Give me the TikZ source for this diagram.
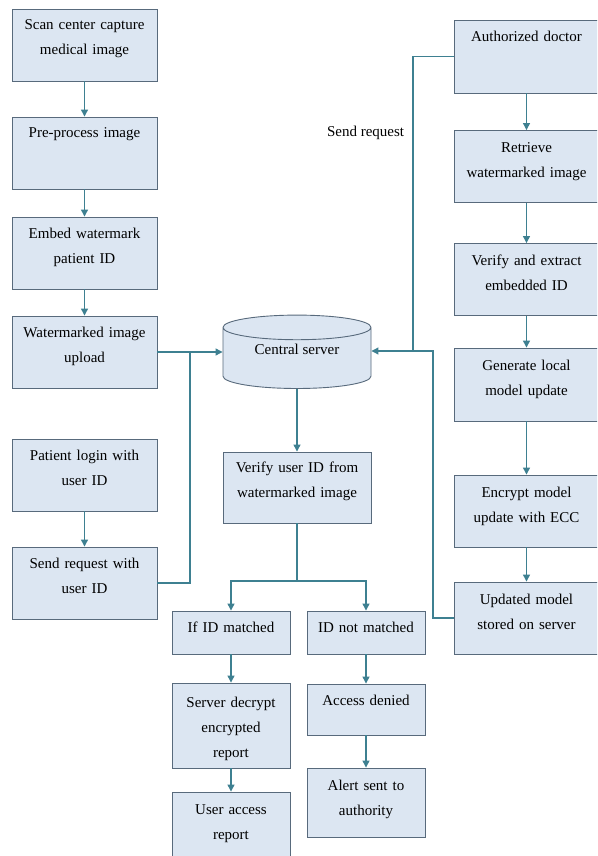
\documentclass[tikz,border=0pt]{standalone}
\usepackage{fontspec}
\setmainfont{Liberation Serif}
\usetikzlibrary{shapes.geometric, arrows.meta}
\definecolor{boxfill}{RGB}{220,230,242}
\definecolor{boxline}{RGB}{88,106,124}
\definecolor{flowcol}{RGB}{62,128,145}

\begin{document}
\begin{tikzpicture}[x=1pt, y=-1pt, >={Triangle[length=7pt, width=7pt]}, block/.style={rectangle, draw=boxline, fill=boxfill, line width=0.9pt, inner sep=0pt, minimum width=145pt, text width=140pt, align=center, text height=21pt, text depth=51pt, font=\fontsize{15}{25}\selectfont}, subblock/.style={block, minimum width=118pt, text width=114pt}, store/.style={cylinder, shape border rotate=90, aspect=0.27, draw=boxline, fill=boxfill, line width=0.9pt, minimum width=148pt, minimum height=72pt, text height=11pt, text depth=22pt, font=\fontsize{15}{25}\selectfont}, flow/.style={draw=flowcol, line width=1.2pt}]

  \clip (0,0) rectangle (597,856);
  \fill[white] (0,0) rectangle (597,856);

  % left column: upload path
  \node[block] (scan) at (84.5,45) {Scan center capture\\medical image};
  \node[block, below of=scan, node distance=108pt] (prep) {Pre-process image};
  \node[block, below of=prep, node distance=100pt] (embed) {Embed watermark\\patient ID};
  \node[block, below of=embed, node distance=99pt] (upload) {Watermarked image\\upload};
  \node[block, below of=upload, node distance=123pt] (login) {Patient login with\\user ID};
  \node[block, below of=login, node distance=108pt] (sendreq) {Send request with\\user ID};

  % right column: doctor path
  \node[block, text height=22pt, text depth=51pt] (doctor) at (526.5,56.5) {Authorized doctor};
  \node[block, text height=22pt, text depth=50pt, below of=doctor, node distance=110pt] (retrieve) {Retrieve\\watermarked image};
  \node[block, text height=22pt, text depth=50pt, below of=retrieve, node distance=113pt] (extract) {Verify and extract\\embedded ID};
  \node[block, text height=22pt, text depth=51pt, below of=extract, node distance=105pt] (localupd) {Generate local\\model update};
  \node[block, text height=22pt, text depth=50pt, below of=localupd, node distance=126.5pt] (encrypt) {Encrypt model\\update with ECC};
  \node[block, text height=22pt, text depth=50pt, below of=encrypt, node distance=107pt] (stored) {Updated model\\stored on server};

  % centre: server and checks
  \node[store] (server) at (297,360) {Central server};
  \node[block, minimum width=148pt, text height=20pt, text depth=51pt] (checkid) at (297,487.5) {Verify user ID from\\watermarked image};
  \node[coordinate, below of=checkid, node distance=93.5pt] (split) {};
  \coordinate (hubdoc) at (413,351);
  \coordinate (hubupd) at (433,351);

  \node[subblock, text depth=22pt] (match) at (231,632.5) {If ID matched};
  \node[subblock, text height=24pt, text depth=61pt, below of=match, node distance=93pt] (decrypt) {Server decrypt\\encrypted\\report};
  \node[subblock, text height=22pt, text depth=50pt, below of=decrypt, node distance=102.5pt] (access) {User access\\report};
  \node[subblock, text depth=22pt] (nomatch) at (366,632.5) {ID not matched};
  \node[subblock, text depth=30pt, below of=nomatch, node distance=77pt] (denied) {Access denied};
  \node[subblock, text height=22pt, text depth=47pt, below of=denied, node distance=93pt] (alert) {Alert sent to\\authority};

  \draw[->, flow] (scan) -- (prep);
  \draw[->, flow] (prep) -- (embed);
  \draw[->, flow] (embed) -- (upload);
  \draw[->, flow] (upload.east) -- node[coordinate, pos=0.5] (hubpat) {} (server.west |- upload.east);
  \draw[->, flow] (login) -- (sendreq);
  \draw[flow] (sendreq.east) -| (hubpat);

  \draw[->, flow] (doctor) -- (retrieve);
  \draw[->, flow] (retrieve) -- (extract);
  \draw[->, flow] (extract) -- (localupd);
  \draw[->, flow] (localupd) -- (encrypt);
  \draw[->, flow] (encrypt) -- (stored);
  \draw[->, flow] (doctor.west) -| node[left, pos=0.63, xshift=-5pt, font=\fontsize{15}{25}\selectfont] {Send request} (hubdoc) -- (hubdoc -| server.east);
  \draw[flow] (stored.west) -| (hubupd) -- (hubdoc);

  \draw[->, flow] (server) -- (checkid);
  \draw[flow] (checkid) -- (split);
  \draw[->, flow] (split) -| (match);
  \draw[->, flow] (split) -| (nomatch);
  \draw[->, flow] (match) -- (decrypt);
  \draw[->, flow] (decrypt) -- (access);
  \draw[->, flow] (nomatch) -- (denied);
  \draw[->, flow] (denied) -- (alert);
\end{tikzpicture}
\end{document}
